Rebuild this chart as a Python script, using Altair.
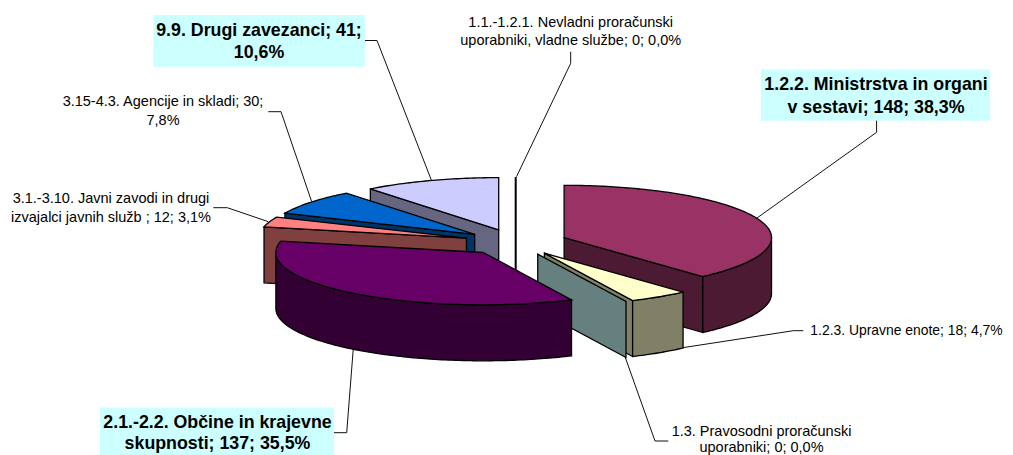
import math
import altair as alt

# ---- data
categories = ["1.2.2", "1.2.3", "1.3", "2.1", "3.1", "3.15", "9.9", "1.1"]
values = [148, 18, 0, 137, 12, 30, 41, 0]
top_colors = ["#993366", "#FFFFCC", "#CCFFFF", "#660066", "#FF8080", "#0066CC", "#CCCCFF", "#9999FF"]
wall_colors = ["#4D1A33", "#808066", "#668080", "#330033", "#804040", "#003366", "#666680", "#4D4D80"]
draw_order = ["1.1", "9.9", "3.15", "3.1", "1.2.2", "1.2.3", "1.3", "2.1"]

label_lines = [
    ["1.1.-1.2.1. Nevladni proračunski", "uporabniki, vladne službe; 0; 0,0%"],
    ["9.9. Drugi zavezanci; 41;", "10,6%"],
    ["3.15-4.3. Agencije in skladi; 30;", "7,8%"],
    ["3.1.-3.10. Javni zavodi in drugi", "izvajalci javnih služb ; 12; 3,1%"],
    ["1.2.2. Ministrstva in organi", "v sestavi; 148; 38,3%"],
    ["1.2.3. Upravne enote; 18; 4,7%"],
    ["1.3. Pravosodni proračunski", "uporabniki; 0; 0,0%"],
    ["2.1.-2.2. Občine in krajevne", "skupnosti; 137; 35,5%"],
]
label_x = [570.7, 259, 163, 111, 876, 906.5, 761.5, 217.5]
label_y = [[22.5, 40.5], [30.5, 52.5], [102, 120.5], [199, 217.5], [84.5, 107.5], [331], [431.5, 447.5], [422.5, 443.5]]
label_bold = [False, True, False, False, True, False, False, True]

boxes_x = [153.5, 761, 100]
boxes_x2 = [365, 990, 334]
boxes_y = [15, 69.5, 407.5]
boxes_y2 = [66.7, 120.7, 455]

leaders = [
    [(570.7, 51.7), (570.7, 63.3), (516.5, 176.7)],
    [(365, 40.5), (377, 40.5), (431.5, 180.5)],
    [(268.3, 111.7), (281, 111.7), (311.7, 201.7)],
    [(213.3, 207.7), (227.3, 207.7), (268.3, 221.7)],
    [(876.6, 120.7), (876.6, 132.3), (757, 218)],
    [(803.3, 330.7), (793.3, 330.7), (682.7, 347.7)],
    [(668.3, 441), (655, 441), (625, 356.7)],
    [(334, 432.7), (346.7, 432.7), (353.3, 348.3)],
]

# ---- pie geometry
CX, CY, RX, RY = 515.7, 242.3, 207.4, 52.3
DEPTH, EXPLODE = 56.0, 0.25
W, H = 997, 447
total = sum(values)


def pt(c, ang, r=1.0, dy=0.0):
    t = math.radians(ang)
    return [c[0] + r * RX * math.sin(t), c[1] - r * RY * math.cos(t) + dy]


def arc(c, a, b, dy=0.0):
    n = max(2, int(abs(b - a)) + 2)
    return [pt(c, a + (b - a) * i / (n - 1), dy=dy) for i in range(n)]


def feature(coords, fill, sw=1.3):
    return {"type": "Feature", "properties": {"fill": fill, "sw": sw},
            "geometry": {"type": "Polygon", "coordinates": [coords + [coords[0]]]}}


spans, start = {}, 0.0
for cat, v in zip(categories, values):
    sweep = v / total * 360
    spans[cat] = (start, start + sweep)
    start += sweep

features = []
for cat in draw_order:
    i = categories.index(cat)
    s, e = spans[cat]
    mid = (s + e) / 2
    c = pt((CX, CY), mid, EXPLODE)
    top, wall = top_colors[i], wall_colors[i]
    walls = []
    if s == e:
        walls.append(s)
    else:
        if 180 < s < 360:
            walls.append(s)
        if 0 < e < 180:
            walls.append(e)
    for ang in walls:
        o = pt(c, ang)
        features.append(feature([c, o, [o[0], o[1] + DEPTH], [c[0], c[1] + DEPTH]], wall,
                                2.0 if cat == "1.1" else 1.3))
    lo, hi = max(s, 90), min(e, 270)
    if hi > lo:
        features.append(feature(arc(c, lo, hi) + arc(c, hi, lo, DEPTH), wall))
    if e > s:
        features.append(feature([c] + arc(c, s, e), top))

leader_features = [
    {"type": "Feature", "properties": {},
     "geometry": {"type": "LineString", "coordinates": [list(p) for p in line]}}
    for line in leaders
]

plain_rows, bold_rows, tight_rows = [], [], []
for lines, x, ys, bold in zip(label_lines, label_x, label_y, label_bold):
    for line, y in zip(lines, ys):
        row = {"t": line, "x": x, "y": y}
        if bold:
            bold_rows.append(row)
        elif line.startswith("1.2.3"):
            tight_rows.append(row)
        else:
            plain_rows.append(row)

box_rows = [{"x": a, "x2": b, "y": c, "y2": d} for a, b, c, d in zip(boxes_x, boxes_x2, boxes_y, boxes_y2)]

sx = alt.Scale(domain=[8, 8 + W], range=[0, W])
sy = alt.Scale(domain=[8, 8 + H], range=[0, H])
proj = dict(type="identity", scale=1, translate=[-8, -8])

rects = alt.Chart(alt.Data(values=box_rows)).mark_rect(color="#CCFFFF").encode(
    x=alt.X("x:Q", scale=sx, axis=None), x2="x2:Q",
    y=alt.Y("y:Q", scale=sy, axis=None), y2="y2:Q")

leader_layer = alt.Chart(alt.Data(values=leader_features)).mark_geoshape(
    filled=False, stroke="#111111", strokeWidth=1).project(**proj)

pie = alt.Chart(alt.Data(values=features)).mark_geoshape(
    stroke="black", strokeJoin="miter").encode(
    fill=alt.Fill("properties.fill:N", scale=None, legend=None),
    strokeWidth=alt.StrokeWidth("properties.sw:Q", scale=None, legend=None)).project(**proj)


def texts(rows, size, weight):
    return alt.Chart(alt.Data(values=rows)).mark_text(
        font="Liberation Sans", fontSize=size, fontWeight=weight, color="#000000",
        align="center", baseline="middle").encode(
        x=alt.X("x:Q", scale=sx, axis=None), y=alt.Y("y:Q", scale=sy, axis=None), text="t:N")


chart = alt.layer(
    rects, leader_layer, pie,
    texts(plain_rows, 14.5, "normal"), texts(tight_rows, 13.9, "normal"), texts(bold_rows, 17.8, "bold")
).properties(
    width=W, height=H, padding=0, background="white",
    autosize=alt.AutoSizeParams(type="none")
).configure_view(stroke=None)

chart.save("out.html", embed_options={"renderer": "svg", "actions": False})
